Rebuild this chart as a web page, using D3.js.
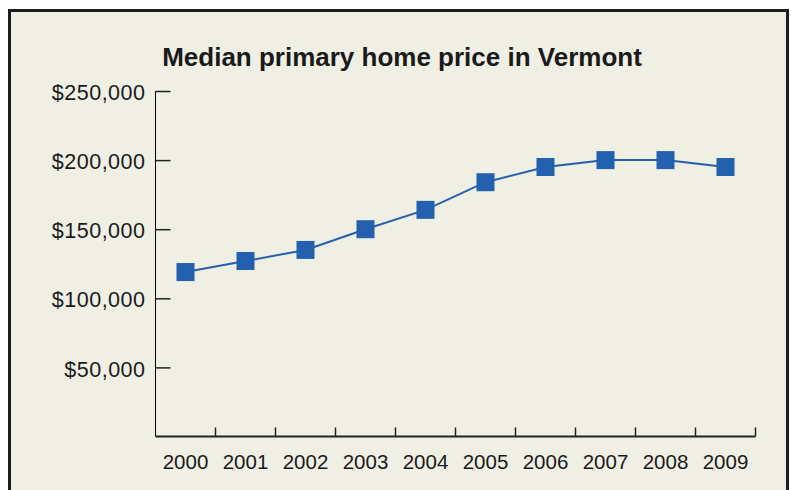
<!DOCTYPE html>
<meta charset="utf-8">
<style>
body { margin: 0; background: #fff; }
text { font-family: "Liberation Sans", Arial, sans-serif; fill: #1a1a1a; }
</style>
<script src="https://cdn.jsdelivr.net/npm/d3@7"></script>
<body>
<script>

var years = ["2000", "2001", "2002", "2003", "2004", "2005", "2006", "2007", "2008", "2009"];
var prices = [119000, 127000, 135000, 150000, 164000, 184000, 195000, 200000, 200000, 195000];
var priceTicks = [50000, 100000, 150000, 200000, 250000];

var width = 791,
    height = 490;

var svg = d3.select("body")
    .append("svg")
    .attr("width", width)
    .attr("height", height);

// panel with dark frame
svg.append("rect")
    .attr("x", 9.5)
    .attr("y", 10.5)
    .attr("width", 778)
    .attr("height", 500)
    .attr("fill", "#f0efe4")
    .attr("stroke", "#1e1e1e")
    .attr("stroke-width", 3);

svg.append("text")
    .attr("x", 402)
    .attr("y", 66)
    .attr("text-anchor", "middle")
    .attr("font-size", "26px")
    .attr("font-weight", "bold")
    .attr("fill", "#000")
    .text("Median primary home price in Vermont");

var x = d3.scaleBand()
    .domain(years)
    .range([155.5, 755.5]);

var y = d3.scaleLinear()
    .domain([0, 250000])
    .range([436.5, 91]);

var yAxis = svg.append("g")
    .attr("transform", "translate(155.5,0)")
    .call(d3.axisRight(y)
        .tickValues(priceTicks)
        .tickSize(15)
        .tickFormat(function (d) { return "$" + d3.format(",")(d); }));

yAxis.select(".domain").attr("d", "M0,91V436.5");
yAxis.selectAll("line").attr("stroke", "#222").attr("stroke-width", 1.5);
yAxis.selectAll("text")
    .attr("x", -10)
    .attr("dy", "0.4em")
    .attr("text-anchor", "end")
    .attr("font-size", "21.5px")
    .attr("fill", "#1a1a1a")
    .attr("letter-spacing", "0.5px");

var xAxis = svg.append("g")
    .attr("transform", "translate(0,436.5)")
    .call(d3.axisTop(x).tickSize(0).tickSizeOuter(0));

xAxis.select(".domain").attr("stroke", "#222").attr("stroke-width", 2)
    .attr("d", "M155.5,0H755.5");
xAxis.selectAll("text")
    .attr("y", 32)
    .attr("dy", 0)
    .attr("font-size", "20.5px")
    .attr("fill", "#1a1a1a");

// boundary ticks between years
var bounds = years.slice(1).map(function (d) { return x(d); }).concat([x.range()[1]]);
xAxis.selectAll(".bound")
    .data(bounds)
    .enter().append("line")
    .attr("class", "bound")
    .attr("x1", function (d) { return d; })
    .attr("x2", function (d) { return d; })
    .attr("y1", 0)
    .attr("y2", -9)
    .attr("stroke", "#222")
    .attr("stroke-width", 1.5);

var line = d3.line()
    .x(function (d, i) { return x(years[i]) + x.bandwidth() / 2; })
    .y(function (d) { return y(d); });

svg.append("path")
    .datum(prices)
    .attr("d", line)
    .attr("fill", "none")
    .attr("stroke", "#2560ad")
    .attr("stroke-width", 2);

svg.selectAll(".pt")
    .data(prices)
    .enter().append("rect")
    .attr("class", "pt")
    .attr("x", function (d, i) { return x(years[i]) + x.bandwidth() / 2 - 9; })
    .attr("y", function (d) { return y(d) - 9; })
    .attr("width", 18)
    .attr("height", 18)
    .attr("fill", "#2360ae");

</script>
</body>
